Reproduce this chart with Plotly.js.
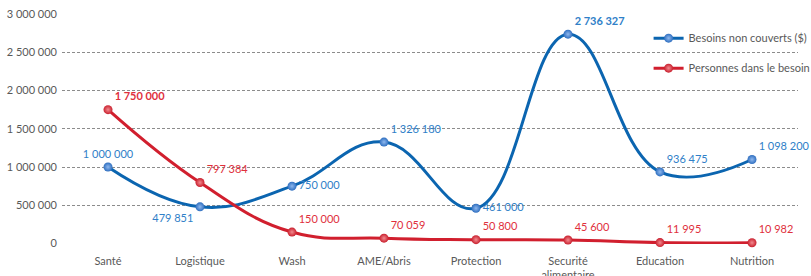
<!DOCTYPE html>
<html><head><meta charset="utf-8">
<script src="https://cdn.plot.ly/plotly-3.0.1.min.js"></script>
<style>html,body{margin:0;padding:0;background:#fff;}#c{width:811px;height:276px;}</style>
</head><body><div id="c"></div>
<script>
const categories = ['Santé','Logistique','Wash','AME/Abris','Protection','Securité<br>alimentaire','Education','Nutrition'];
const besoins = [1000000, 479851, 750000, 1326180, 461000, 2736327, 936475, 1098200];
const personnes = [1750000, 797384, 150000, 70059, 50800, 45600, 11995, 10982];
const besoinsLabels = ['1 000 000','479 851','750 000','1 326 180','461 000','<b>2 736 327</b>','936 475','1 098 200'];
const personnesLabels = ['<b>1 750 000</b>','797 384','150 000','70 059','50 800','45 600','11 995','10 982'];
const yTicks = [0, 500000, 1000000, 1500000, 2000000, 2500000, 3000000];
const yTickText = ['0','500 000','1 000 000','1 500 000','2 000 000','2 500 000','3 000 000'];

const font = 'Lato, "Open Sans", sans-serif';
const traces = [
 {x: categories, y: besoins, name: 'Besoins non couverts ($)', type:'scatter', mode:'lines+markers+text',
  legendgroup:'a',
  line:{color:'#0b65b0', width:3, shape:'spline', smoothing:1.2},
  marker:{size:9, color:'#2f6fc0', gradient:{type:'radial', color:'#8fb8ee'}, line:{width:0}},
  text: besoinsLabels,
  textposition:['top center','bottom left','middle right','top right','middle right','top right','top right','top right'],
  textfont:{color:'#2f80c8', size:11, family:font}, cliponaxis:false},
 {x: categories, y: personnes, name: 'Personnes dans le besoin', type:'scatter', mode:'lines+markers+text',
  legendgroup:'b',
  line:{color:'#d11f2e', width:3, shape:'spline', smoothing:1.2},
  marker:{size:9, color:'#c9202e', gradient:{type:'radial', color:'#f28a8f'}, line:{width:0}},
  text: personnesLabels,
  textposition:'top right',
  textfont:{color:'#e0303c', size:11, family:font}, cliponaxis:false}
];
const layout = {
  width:811, height:276,
  margin:{l:62, r:13, t:14, b:32, autoexpand:false},
  paper_bgcolor:'#fff', plot_bgcolor:'#fff',
  font:{family:font, size:11, color:'#595959'},
  showlegend:true,
  legend:{x:0.797, y:0.958, xanchor:'left', yanchor:'top', bgcolor:'rgba(0,0,0,0)',
    font:{size:11, color:'#595959', family:font}, traceorder:'grouped', tracegroupgap:11, itemwidth:30},
  xaxis:{type:'category', range:[-0.5,7.5], showgrid:false, zeroline:false, showline:false,
    ticks:'', ticklabelstandoff:9, tickfont:{size:11, color:'#595959'}, fixedrange:true, automargin:false},
  yaxis:{range:[-6000,3000000], tickvals:yTicks, ticktext:yTickText, showgrid:true, gridcolor:'#8c8c8c',
    griddash:'3px,2px', gridwidth:1, zeroline:false, showline:false, ticks:'', ticklabelstandoff:4,
    tickfont:{size:11, color:'#595959'}, fixedrange:true, automargin:false}
};
Plotly.newPlot('c', traces, layout, {displayModeBar:false, staticPlot:true});
</script>
</body></html>
